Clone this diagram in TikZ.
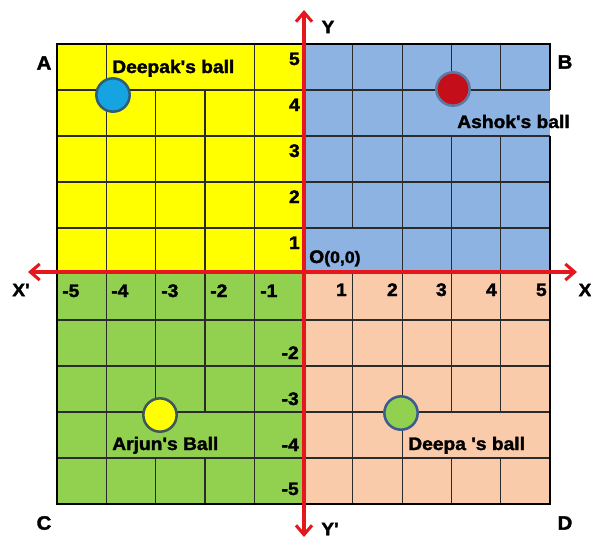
\documentclass[tikz,border=0pt]{standalone}
\usepackage{fontspec}
\newfontfamily\lab{Liberation Sans}[FakeStretch=1.06, BoldFeatures={FakeBold=1.8}]
\usetikzlibrary{arrows.meta}
\definecolor{qyellow}{HTML}{FFFF00}
\definecolor{qblue}{HTML}{8DB3E2}
\definecolor{qgreen}{HTML}{92D050}
\definecolor{qpeach}{HTML}{FACBAB}
\definecolor{axisred}{HTML}{E5161C}
\definecolor{gridline}{HTML}{2B2B2B}
\begin{document}
\begin{tikzpicture}[x=0.75pt,y=-0.75pt,
  lbl/.style={font=\lab\bfseries\fontsize{13.6}{15}\selectfont, inner sep=0pt, text=black},
  corner/.style={lbl, font=\lab\bfseries\fontsize{14.5}{16}\selectfont},
  gridl/.style={draw=gridline, line width=0.9pt},
  border/.style={draw=black, line width=1.9pt},
  axisline/.style={draw=axisred, line width=2.3pt, {Straight Barb[length=7pt,width=12pt]}-{Straight Barb[length=7pt,width=12pt]}},
  ball/.style={circle, minimum size=25pt, inner sep=0pt, line width=1.9pt}]
\useasboundingbox (0,0) rectangle (591,540);
% quadrant fills
\fill[qyellow] (57,44) rectangle (303.5,274);
\fill[qblue] (303.5,44) rectangle (550,274);
\fill[qgreen] (57,274) rectangle (303.5,504);
\fill[qpeach] (303.5,274) rectangle (550,504);
% horizontal grid lines
\foreach \yy in {90,136,182,228,320,366,412,458}
  \draw[gridl] (57,\yy) -- (550,\yy);
% vertical grid lines
\draw[gridl] (106.3,44) -- (106.3,504);
\draw[gridl] (155.6,90) -- (155.6,412) (155.6,458) -- (155.6,504);
\draw[gridl] (204.9,90) -- (204.9,412) (204.9,458) -- (204.9,504);
\draw[gridl] (254.2,44) -- (254.2,504);
\draw[gridl] (352.8,44) -- (352.8,228) (352.8,274) -- (352.8,504);
\draw[gridl] (402.1,44) -- (402.1,504);
\draw[gridl] (451.4,44) -- (451.4,90) (451.4,136) -- (451.4,412) (451.4,458) -- (451.4,504);
\draw[gridl] (500.7,44) -- (500.7,90) (500.7,136) -- (500.7,412) (500.7,458) -- (500.7,504);
% outer border (gap on right beside Ashok's label)
\draw[border, line join=miter] (550,90) -- (550,44) -- (57,44) -- (57,504) -- (550,504) -- (550,136);
% axes
\coordinate (xl) at (28,272);
\coordinate (xr) at (577,272);
\coordinate (yt) at (304,10);
\coordinate (yb) at (304,537);
\draw[axisline] (xl) -- (xr);
\draw[axisline] (yb) -- (yt);
% axis names
\node[lbl] (Xp) at (21,290) {X'};
\node[lbl] (Xn) at (585,290) {X};
\node[lbl] (Yn) at (328,27) {Y};
\node[lbl] (Yp) at (330,529) {Y'};
% corner letters
\node[corner] (A) at (44,63) {A};
\node[corner] (B) at (565,62) {B};
\node[corner] (C) at (44,523) {C};
\node[corner] (D) at (565,523) {D};
% y numbers
\node[lbl, anchor=base east] (y5) at (300,65) {5};
\node[lbl, anchor=base east] (y4) at (300,111) {4};
\node[lbl, anchor=base east] (y3) at (300,157) {3};
\node[lbl, anchor=base east] (y2) at (300,203) {2};
\node[lbl, anchor=base east] (y1) at (300,249) {1};
\node[lbl, anchor=base east] (ym2) at (299,359) {-2};
\node[lbl, anchor=base east] (ym3) at (299,405) {-3};
\node[lbl, anchor=base east] (ym4) at (299,451) {-4};
\node[lbl, anchor=base east] (ym5) at (299,495) {-5};
% x numbers
\node[lbl, anchor=base west] (xm5) at (62,297) {-5};
\node[lbl, anchor=base west] (xm4) at (111,297) {-4};
\node[lbl, anchor=base west] (xm3) at (161,297) {-3};
\node[lbl, anchor=base west] (xm2) at (210,297) {-2};
\node[lbl, anchor=base west] (xm1) at (260,297) {-1};
\node[lbl, anchor=base east] (x1) at (347,296) {1};
\node[lbl, anchor=base east] (x2) at (398,296) {2};
\node[lbl, anchor=base east] (x3) at (447,296) {3};
\node[lbl, anchor=base east] (x4) at (497,296) {4};
\node[lbl, anchor=base east] (x5) at (547,296) {5};
% origin
\node[lbl, anchor=base west] (O) at (309,263) {O{\fontsize{12.5}{14}\selectfont(0,0)}};
% balls
\node[ball, fill={rgb,255:red,22;green,163;blue,226}, draw={rgb,255:red,44;green,94;blue,122}] (dball) at (113,95) {};
\node[ball, fill={rgb,255:red,196;green,14;blue,26}, draw={rgb,255:red,92;green,122;blue,160}] (aball) at (453,89) {};
\node[ball, fill=qyellow, draw={rgb,255:red,62;green,88;blue,88}] (jball) at (160,415) {};
\node[ball, fill=qgreen, draw={rgb,255:red,60;green,92;blue,142}] (pball) at (401,413) {};
% ball labels
\node[lbl, anchor=base west] (dlab) at (112,73) {Deepak's ball};
\node[lbl, anchor=base west] (alab) at (457,128) {Ashok's ball};
\node[lbl, anchor=base west] (jlab) at (112,450) {Arjun's Ball};
\node[lbl, anchor=base west] (plab) at (408,450) {Deepa 's ball};
\end{tikzpicture}
\end{document}
